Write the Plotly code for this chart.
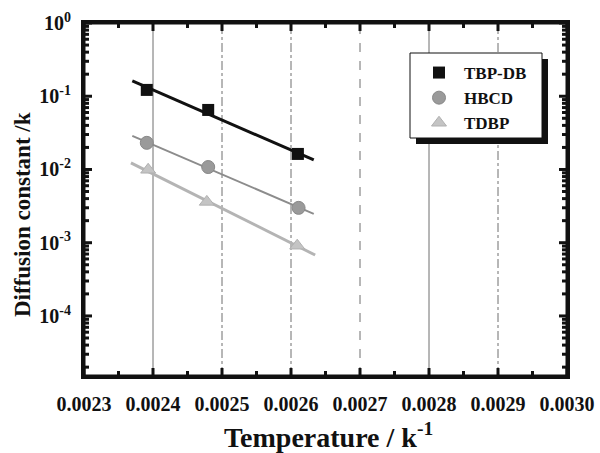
import numpy as np
import plotly.graph_objects as go

# ---- data ----
series_names = ["TBP-DB", "HBCD", "TDBP"]

tbp_x = [0.002391, 0.002480, 0.002610]
tbp_y = [0.122, 0.065, 0.0163]
hbcd_x = [0.002391, 0.002480, 0.002611]
hbcd_y = [0.0231, 0.0108, 0.00299]
tdbp_x = [0.002393, 0.002478, 0.002609]
tdbp_y = [0.0099, 0.00361, 0.00091]

# fitted lines (end points)
tbp_fit_x = [0.002370, 0.002633]
tbp_fit_y = [0.162, 0.0135]
hbcd_fit_x = [0.002370, 0.002633]
hbcd_fit_y = [0.0287, 0.00248]
tdbp_fit_x = [0.002368, 0.002635]
tdbp_fit_y = [0.0123, 0.00068]

x_ticks = [0.0023, 0.0024, 0.0025, 0.0026, 0.0027, 0.0028, 0.0029, 0.0030]
x_tick_labels = ["0.0023", "0.0024", "0.0025", "0.0026", "0.0027", "0.0028", "0.0029", "0.0030"]
x_minor_ticks = [0.00235, 0.00245, 0.00255, 0.00265, 0.00275, 0.00285, 0.00295]
y_ticks = [1e-4, 1e-3, 1e-2, 1e-1, 1e0]
y_tick_labels = ["10<sup>-4</sup>", "10<sup>-3</sup>", "10<sup>-2</sup>", "10<sup>-1</sup>", "10<sup>0</sup>"]
y_minor_ticks = [m * 10.0 ** e for e in (-5, -4, -3, -2, -1) for m in range(2, 10)]

x_grid = [0.0024, 0.0025, 0.0026, 0.0027, 0.0028, 0.0029]
x_grid_dash = ["solid", "dashdot", "dashdot", "dash", "solid", "dashdot"]
y_grid = [1e-1, 1e-2, 1e-3, 1e-4]
y_grid_dash = ["solid", "solid", "dashdot", "solid"]

FONT = "Liberation Serif"
X_RANGE = [0.0023, 0.0030]
Y_RANGE_LOG = [-4.82, 0.0]

# plot area in pixels (from the reference)
L, R, T, B = 84, 567, 23, 376
W, H = 600, 453
PW, PH = R - L, B - T


def px_x(p):
    return (p - L) / PW


def px_y(p):
    return (B - p) / PH


fig = go.Figure()

# fit lines
fig.add_trace(go.Scatter(x=tbp_fit_x, y=tbp_fit_y, mode="lines",
                         line=dict(color="#111111", width=3), showlegend=False, hoverinfo="skip"))
fig.add_trace(go.Scatter(x=hbcd_fit_x, y=hbcd_fit_y, mode="lines",
                         line=dict(color="#8c8c8c", width=2), showlegend=False, hoverinfo="skip"))
fig.add_trace(go.Scatter(x=tdbp_fit_x, y=tdbp_fit_y, mode="lines",
                         line=dict(color="#b4b4b4", width=3), showlegend=False, hoverinfo="skip"))

# markers
fig.add_trace(go.Scatter(x=tbp_x, y=tbp_y, mode="markers", name=series_names[0],
                         marker=dict(symbol="square", size=12, color="#111111")))
fig.add_trace(go.Scatter(x=hbcd_x, y=hbcd_y, mode="markers", name=series_names[1],
                         marker=dict(symbol="circle", size=13, color="#9a9a9a",
                                     line=dict(color="#888888", width=1))))
fig.add_trace(go.Scatter(x=tdbp_x, y=tdbp_y, mode="markers", name=series_names[2],
                         marker=dict(symbol="triangle-up", size=13, color="#c4c4c4",
                                     line=dict(color="#b0b0b0", width=1))))

# frame and inside tick marks, drawn along the axis range as a line trace
x0, x1 = X_RANGE
y0, y1 = 10 ** Y_RANGE_LOG[0], 10 ** Y_RANGE_LOG[1]
dx_per_px = (x1 - x0) / PW
dlog_per_px = (Y_RANGE_LOG[1] - Y_RANGE_LOG[0]) / PH

fx, fy = [x0, x1, x1, x0, x0, None], [y0, y0, y1, y1, y0, None]
for v, ln in [(t, 8) for t in x_ticks] + [(t, 5) for t in x_minor_ticks]:
    f = 10 ** (ln * dlog_per_px)
    fx += [v, v, None, v, v, None]
    fy += [y0, y0 * f, None, y1, y1 / f, None]
for v, ln in [(t, 8) for t in y_ticks] + [(t, 5) for t in y_minor_ticks]:
    if not (Y_RANGE_LOG[0] <= np.log10(v) <= Y_RANGE_LOG[1]):
        continue
    fx += [x0, x0 + ln * dx_per_px, None, x1, x1 - ln * dx_per_px, None]
    fy += [v, v, None, v, v, None]
fig.add_trace(go.Scatter(x=fx, y=fy, mode="lines", line=dict(color="#111111", width=3),
                         showlegend=False, hoverinfo="skip", cliponaxis=False,
                         connectgaps=False))

shapes = []
# grid lines
for gx, d in zip(x_grid, x_grid_dash):
    shapes.append(dict(type="line", xref="x", yref="y domain", x0=gx, x1=gx, y0=0, y1=1,
                       line=dict(color="#6e6e6e", width=1, dash=d), layer="below"))
for gy, d in zip(y_grid, y_grid_dash):
    ly = float(np.log10(gy))
    shapes.append(dict(type="line", xref="x domain", yref="y", x0=0, x1=1, y0=ly, y1=ly,
                       line=dict(color="#6e6e6e", width=1, dash=d), layer="below"))

# legend shadow and box
shapes.append(dict(type="rect", xref="paper", yref="paper",
                   x0=px_x(416), x1=px_x(548), y0=px_y(144), y1=px_y(59),
                   fillcolor="#111111", line=dict(width=0), layer="above"))
shapes.append(dict(type="rect", xref="paper", yref="paper",
                   x0=px_x(410), x1=px_x(542), y0=px_y(138), y1=px_y(53),
                   fillcolor="white", line=dict(color="#111111", width=1), layer="above"))

annotations = [
    dict(text="Diffusion constant /k", xref="paper", yref="paper",
         x=px_x(22), y=px_y(215), xanchor="center", yanchor="middle", textangle=-90,
         showarrow=False, font=dict(family=FONT, size=23, color="#111111", weight="bold")),
    dict(text="Temperature / k<sup>-1</sup>", xref="paper", yref="paper",
         x=px_x(328), y=px_y(436), xanchor="center", yanchor="middle",
         showarrow=False, font=dict(family=FONT, size=28, color="#111111", weight="bold")),
]

fig.update_layout(
    width=W, height=H,
    margin=dict(l=L, r=W - R, t=T, b=H - B, autoexpand=False),
    paper_bgcolor="white", plot_bgcolor="white",
    font=dict(family=FONT, color="#111111", size=18),
    showlegend=True,
    legend=dict(x=px_x(414), y=px_y(55), xanchor="left", yanchor="top",
                bgcolor="rgba(0,0,0,0)", borderwidth=0,
                font=dict(family=FONT, size=17, color="#111111", weight="bold"),
                itemwidth=40),
    shapes=shapes,
    annotations=annotations,
)

fig.update_xaxes(
    range=X_RANGE, tickmode="array", tickvals=x_ticks, ticktext=x_tick_labels,
    showgrid=False, zeroline=False, automargin=False,
    showline=True, linecolor="#111111", linewidth=3, mirror=True,
    ticks="", tickfont=dict(family=FONT, size=20, color="#111111", weight="bold"),
    ticklabelstandoff=8,
)
fig.update_yaxes(
    type="log", range=Y_RANGE_LOG, tickmode="array", tickvals=y_ticks, ticktext=y_tick_labels,
    showgrid=False, zeroline=False, automargin=False,
    showline=True, linecolor="#111111", linewidth=3, mirror=True,
    ticks="", tickfont=dict(family=FONT, size=20, color="#111111", weight="bold"),
    ticklabelstandoff=6,
)

fig.write_html("out.html", config={"staticPlot": True})
